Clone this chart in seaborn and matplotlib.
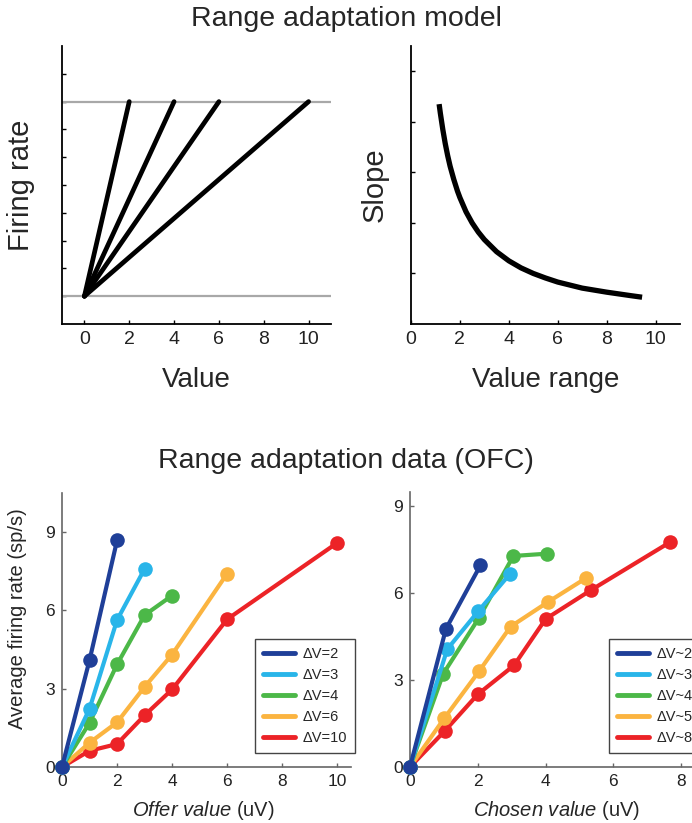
import matplotlib
matplotlib.use("Agg")
import matplotlib.pyplot as plt
from matplotlib.lines import Line2D
import seaborn as sns
import numpy as np
import pandas as pd

# --- data ---
# model: firing rate rises from a floor to a ceiling over each value range
model_ranges = [2, 4, 6, 10]
fr_floor, fr_ceiling = 1, 8

# model: slope vs value range
slope_x = [1.15, 1.2, 1.3, 1.4, 1.5, 1.6, 1.75, 1.9, 2.0, 2.25, 2.5, 2.75, 3.0,
           3.5, 4.0, 4.5, 5.0, 5.5, 6.0, 7.0, 8.0, 9.0, 9.45]
slope_y = [4.35, 4.17, 3.85, 3.57, 3.33, 3.12, 2.86, 2.63, 2.50, 2.22, 2.00, 1.82, 1.67,
           1.43, 1.25, 1.11, 1.00, 0.91, 0.83, 0.71, 0.63, 0.56, 0.53]

# data (OFC): offer value
offer_labels = ["ΔV=2", "ΔV=3", "ΔV=4", "ΔV=6", "ΔV=10"]
offer_x = [[0, 1, 2], [0, 1, 2, 3], [0, 1, 2, 3, 4], [0, 1, 2, 3, 4, 6], [0, 1, 2, 3, 4, 6, 10]]
offer_y = [[0, 4.09, 8.68],
           [0, 2.23, 5.63, 7.59],
           [0, 1.69, 3.93, 5.82, 6.57],
           [0, 0.93, 1.71, 3.07, 4.31, 7.41],
           [0, 0.62, 0.88, 1.98, 2.97, 5.66, 8.59]]

# data (OFC): chosen value
chosen_labels = ["ΔV~2", "ΔV~3", "ΔV~4", "ΔV~5", "ΔV~8"]
chosen_x = [[0, 1.06, 2.08],
            [0, 1.10, 2.02, 2.95],
            [0, 0.98, 2.03, 3.05, 4.05],
            [0, 1.01, 2.04, 2.97, 4.06, 5.20],
            [0, 1.03, 2.00, 3.07, 4.00, 5.34, 7.68]]
chosen_y = [[0, 4.77, 6.97],
            [0, 4.07, 5.39, 6.67],
            [0, 3.22, 5.14, 7.29, 7.37],
            [0, 1.68, 3.31, 4.85, 5.69, 6.53],
            [0, 1.25, 2.51, 3.51, 5.11, 6.11, 7.77]]

colors = ["#1f3f98", "#29b5e9", "#4cb848", "#fbb440", "#ec2327"]

sns.set_style("ticks")
plt.rcParams["font.family"] = ["Liberation Sans", "DejaVu Sans"]
plt.rcParams["mathtext.fontset"] = "custom"
plt.rcParams["mathtext.rm"] = "Liberation Sans"
plt.rcParams["mathtext.it"] = "Liberation Sans:italic"
plt.rcParams["xtick.direction"] = "in"
plt.rcParams["ytick.direction"] = "in"

W, H = 692, 823
fig = plt.figure(figsize=(W / 100, H / 100), dpi=100)


def px_axes(left, top, right, bottom):
    return fig.add_axes([left / W, 1 - bottom / H, (right - left) / W, (bottom - top) / H])


def style(ax, color, lw, size, length):
    sns.despine(ax=ax)
    for s in ("left", "bottom"):
        ax.spines[s].set_color(color)
        ax.spines[s].set_linewidth(lw)
    ax.tick_params(colors=color, labelcolor="#222222", labelsize=size,
                   length=length, width=1)


# ---------- top left: firing rate vs value ----------
ax1 = px_axes(62, 46, 331, 324)
seg = pd.DataFrame({
    "rng": np.repeat(model_ranges, 2),
    "value": np.ravel([[0, r] for r in model_ranges]),
    "rate": np.tile([fr_floor, fr_ceiling], len(model_ranges)),
})
ax1.axhline(fr_floor, color="#a8a8a8", lw=1.6, zorder=1)
ax1.axhline(fr_ceiling, color="#a8a8a8", lw=1.6, zorder=1)
sns.lineplot(data=seg, x="value", y="rate", units="rng", estimator=None,
             color="black", lw=3.4, sort=False, ax=ax1, zorder=3)
ax1.set_xlim(-1, 11)
ax1.set_ylim(0, 10)
ax1.set_xticks(range(0, 11, 2))
ax1.set_yticks(range(1, 10))
ax1.set_yticklabels([])
style(ax1, "black", 1.3, 14, 3)
ax1.tick_params(axis="x", pad=5)
ax1.set_xlabel("Value", fontsize=20)
ax1.set_ylabel("Firing rate", fontsize=21)
ax1.xaxis.set_label_coords(0.5, -0.155)
ax1.yaxis.set_label_coords(-0.10, 0.5)

# ---------- top right: slope vs value range ----------
ax2 = px_axes(411, 46, 680, 324)
sns.lineplot(x=slope_x, y=slope_y, color="black", lw=3.8, sort=False, ax=ax2,
             solid_capstyle="butt", solid_joinstyle="round")
ax2.set_xlim(0, 11)
ax2.set_ylim(0, 5.5)
ax2.set_xticks(range(0, 11, 2))
ax2.set_yticks(range(1, 6))
ax2.set_yticklabels([])
style(ax2, "black", 1.3, 14, 3)
ax2.tick_params(axis="x", pad=5)
ax2.set_xlabel("Value range", fontsize=20)
ax2.set_ylabel("Slope", fontsize=21)
ax2.xaxis.set_label_coords(0.5, -0.155)
ax2.yaxis.set_label_coords(-0.082, 0.5)

fig.text(0.5, 1 - 19 / H, "Range adaptation model", ha="center", va="center", fontsize=20.5)
fig.text(0.5, 1 - 461 / H, "Range adaptation data (OFC)", ha="center", va="center", fontsize=20.5)


# ---------- bottom: data panels ----------
def data_panel(ax, xs, ys, labels, legend_xy):
    # draw last series first so the first one sits on top
    for i in reversed(range(len(xs))):
        sns.lineplot(x=xs[i], y=ys[i], color=colors[i], lw=3, marker="o",
                     markersize=10.5, markeredgewidth=0, sort=False, ax=ax,
                     clip_on=False, zorder=3 + (len(xs) - i) * 0.01)
    proxies = [Line2D([], [], color=c, lw=3.5) for c in colors]
    leg = ax.legend(proxies, labels,
                    loc="upper left", bbox_to_anchor=legend_xy,
                    bbox_transform=fig.transFigure, borderaxespad=0,
                    fontsize=10.5, handlelength=2.2, handletextpad=0.5,
                    labelspacing=0.48, borderpad=0.55, fancybox=False,
                    framealpha=1, edgecolor="#444444")
    leg.get_frame().set_linewidth(1.0)
    ax.set_yticks([0, 3, 6, 9])
    style(ax, "#666666", 1.2, 12.5, 3)
    ax.tick_params(pad=5)


ax3 = px_axes(62, 493, 351, 767)
data_panel(ax3, offer_x, offer_y, offer_labels, (255 / W, 1 - 639 / H))
ax3.set_xlim(0, 10.5)
ax3.set_ylim(0, 10.5)
ax3.set_xticks(range(0, 11, 2))
ax3.set_xlabel(r"$\it{Offer\ value}$ (uV)", fontsize=14.5)
ax3.set_ylabel("Average firing rate (sp/s)", fontsize=14.5)
ax3.xaxis.set_label_coords(0.49, -0.115)
ax3.yaxis.set_label_coords(-0.12, 0.54)

ax4 = px_axes(410, 492, 698, 767)
data_panel(ax4, chosen_x, chosen_y, chosen_labels, (609 / W, 1 - 639 / H))
ax4.set_xlim(0, 8.5)
ax4.set_ylim(0, 9.5)
ax4.set_xticks(range(0, 9, 2))
ax4.set_xlabel(r"$\it{Chosen\ value}$ (uV)", fontsize=14.5)
ax4.set_ylabel("")
ax4.xaxis.set_label_coords(0.51, -0.115)

fig.savefig("out.png", dpi=100)
